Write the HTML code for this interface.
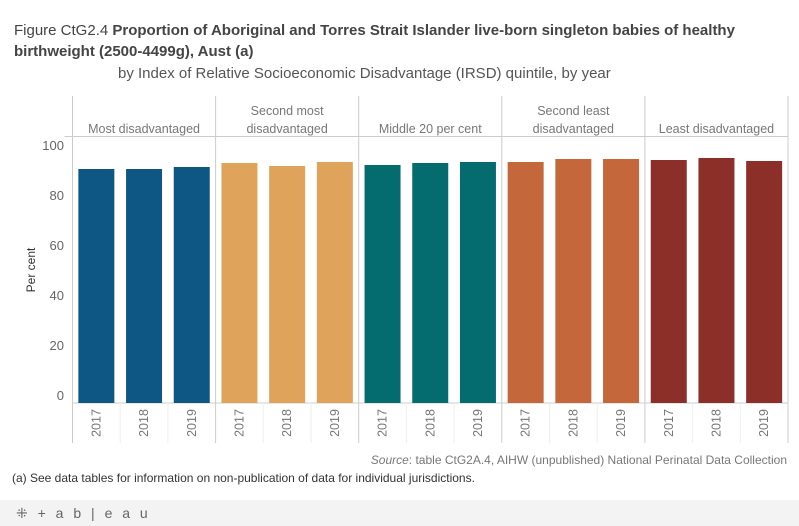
<!DOCTYPE html>
<html><head><meta charset="utf-8"><style>
body{margin:0;width:799px;height:526px;background:#fff;font-family:"Liberation Sans",sans-serif;overflow:hidden;position:relative}
.t{position:absolute;color:#555}
</style></head><body>
<div class="t" style="left:14px;top:20px;font-size:15px;line-height:21px;width:780px;color:#444">Figure CtG2.4 <b style="font-weight:bold;color:#444">Proportion of Aboriginal and Torres Strait Islander live-born singleton babies of healthy birthweight (2500-4499g), Aust (a)</b></div>
<div class="t" style="left:118px;top:65px;font-size:15px;color:#555">by Index of Relative Socioeconomic Disadvantage (IRSD) quintile, by year</div>
<svg id="c" width="799" height="526" style="position:absolute;left:0;top:0"></svg>
<div class="t" style="right:12px;top:453px;font-size:12px;color:#777"><i>Source</i>: table CtG2A.4, AIHW (unpublished) National Perinatal Data Collection</div>
<div class="t" style="left:12px;top:471px;font-size:12px;color:#333">(a) See data tables for information on non-publication of data for individual jurisdictions.</div>
<div style="position:absolute;left:0;top:500px;width:799px;height:26px;background:#f3f3f3"></div>
<div class="t" style="left:16px;top:505px;font-size:14px;color:#666;letter-spacing:3px">⁜ + a b | e a u</div>
<script>
const categories=["Most disadvantaged","Second most disadvantaged","Middle 20 per cent","Second least disadvantaged","Least disadvantaged"];
const headerLines=[["Most disadvantaged"],["Second most","disadvantaged"],["Middle 20 per cent"],["Second least","disadvantaged"],["Least disadvantaged"]];
const years=["2017","2018","2019"];
const values=[[90.4,90.4,91.2],[92.8,91.6,93.2],[92.0,92.8,93.2],[93.2,94.4,94.4],[94.0,94.8,93.6]];
const colors=["#0e5784","#e0a35c","#046b6e","#c4673b","#8b2f28"];
const yTicks=[0,20,40,60,80,100];
const svg=document.getElementById('c');const NS='http://www.w3.org/2000/svg';
function mk(t,a,p){const e=document.createElementNS(NS,t);for(const k in a)e.setAttribute(k,a[k]);(p||svg).appendChild(e);return e;}
const x0=72.5,pw=143.1,yTop=136.5,yBot=403;
const y=v=>395-v*2.5;
yTicks.forEach(v=>{const t=mk('text',{x:64,y:y(v)+5,'text-anchor':'end','font-size':13,fill:'#666'});t.textContent=v;

});
const yt=mk('text',{x:35,y:270,'text-anchor':'middle','font-size':12,fill:'#333',transform:'rotate(-90 35 270)'});yt.textContent='Per cent';


mk('line',{x1:x0-8,x2:788,y1:yTop,y2:yTop,stroke:'#ccc'});
mk('line',{x1:x0,x2:788,y1:yBot,y2:yBot,stroke:'#ccc'});
categories.forEach((c,i)=>{
 const px=x0+i*pw;
 mk('line',{x1:px,x2:px,y1:96,y2:443,stroke:'#ccc'});
 const lines=headerLines[i];
 lines.forEach((l,j)=>{const t=mk('text',{x:px+pw/2,y:lines.length==1?133:115+j*18,'text-anchor':'middle','font-size':12.5,fill:'#777'});t.textContent=l;
 
 });
 const cw=pw/3;
 years.forEach((yr,k)=>{
  const cx=px+cw*k+cw/2;
  if(k>0)mk('line',{x1:px+cw*k,x2:px+cw*k,y1:yBot,y2:443,stroke:'#eee'});
  const r=mk('rect',{x:cx-18,y:y(values[i][k]),width:36,height:yBot-y(values[i][k]),fill:colors[i]});
  
  
  const t=mk('text',{x:0,y:0,'text-anchor':'middle','font-size':12.5,fill:'#777',transform:`translate(${cx+4} 423) rotate(-90)`});t.textContent=yr;
  
  
 });
});
mk('line',{x1:788,x2:788,y1:96,y2:443,stroke:'#ccc'});
</script>
</body></html>
